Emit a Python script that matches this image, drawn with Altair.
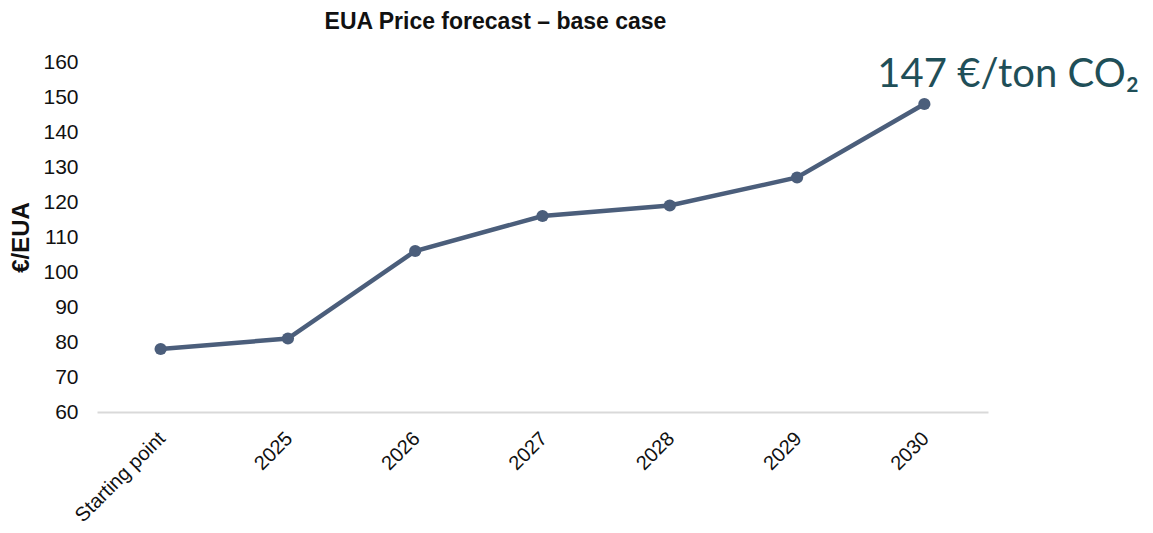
import altair as alt
import pandas as pd

categories = ["Starting point", "2025", "2026", "2027", "2028", "2029", "2030"]
prices = [78, 81, 106, 116, 119, 127, 148]
annotation_text = "147 €/ton CO₂"
y_ticks = [60, 70, 80, 90, 100, 110, 120, 130, 140, 150, 160]

df = pd.DataFrame({"cat": categories, "price": prices})
ann = pd.DataFrame({"cat": [categories[-1]], "price": [prices[-1]], "label": [annotation_text]})

LINE = "#4b5e7b"

x_enc = alt.X("cat:N", sort=categories, title=None,
              scale=alt.Scale(paddingInner=0, paddingOuter=0.5),
              axis=alt.Axis(labelAngle=-45, ticks=False, domainColor="#d9d9d9",
                            domainWidth=2, labelPadding=16, labelOffset=-6,
                            labelFontSize=20, grid=False))
y_enc = alt.Y("price:Q", title="€/EUA",
              scale=alt.Scale(domain=[60, 160], nice=False, zero=False),
              axis=alt.Axis(values=y_ticks, grid=False, domain=False, ticks=False,
                            labelPadding=19, labelOverlap=False, titlePadding=9))

line = alt.Chart(df).mark_line(color=LINE, strokeWidth=4.5).encode(x=x_enc, y=y_enc)
pts = alt.Chart(df).mark_point(color=LINE, filled=True, opacity=1, size=150).encode(x=x_enc, y=y_enc)
label = alt.Chart(ann).mark_text(align="left", baseline="alphabetic", dx=-47, dy=-17,
                                 font="Lato", fontSize=40, color="#1f4f58").encode(
    x=x_enc, y=y_enc, text="label:N")

chart = (line + pts + label).properties(
    width=891, height=350,
    autosize=alt.AutoSizeParams(type="none"),
    padding={"left": 89, "top": 54, "right": 157, "bottom": 113},
    title=alt.TitleParams("EUA Price forecast – base case", font="Liberation Sans", fontSize=23,
                          fontWeight="bold", color="#111111", anchor="middle", dx=-47, offset=17),
).configure_view(stroke=None).configure_axis(
    labelFont="Liberation Sans", labelFontSize=21, labelColor="#111111",
    titleFont="Liberation Sans", titleFontSize=24, titleFontWeight="bold", titleColor="#111111",
)

chart.save("out.html", embed_options={"renderer": "svg", "actions": False})
